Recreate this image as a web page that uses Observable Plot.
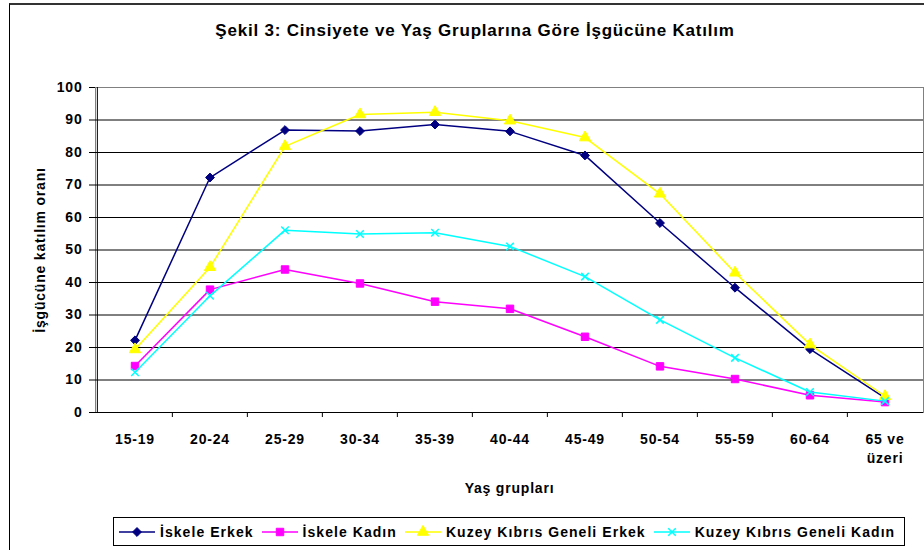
<!DOCTYPE html>
<html>
<head>
<meta charset="utf-8">
<script src="https://cdn.jsdelivr.net/npm/d3@7"></script>
<script src="https://cdn.jsdelivr.net/npm/@observablehq/plot@0.6"></script>
<style>
  html, body { margin: 0; padding: 0; background: #fff; }
  #wrap { position: relative; width: 924px; height: 550px; overflow: hidden; font-family: "Liberation Sans", Arial, sans-serif; }
  #border { position: absolute; left: 9px; top: 3px; width: 1000px; height: 600px; border-left: 1px solid #000; border-top: 2px solid #333; pointer-events: none; }
  #title { position: absolute; top: 22px; left: 0; width: 950px; text-align: center; font-weight: bold; font-size: 17px; line-height: 18px; letter-spacing: 0.8px; }
  #chart { position: absolute; top: 58px; left: 0; }
  #legend { position: absolute; left: 113px; top: 517px; width: 792px; height: 29px; border: 1px solid #000; display: flex; align-items: center; padding-left: 4px; box-sizing: border-box; font-weight: bold; font-size: 14px; letter-spacing: 1.05px; background: #fff; }
  .item { display: flex; align-items: center; margin-right: 7px; white-space: nowrap; }
  .item svg { margin-right: 4px; }
</style>
</head>
<body>
<div id="wrap">
  <div id="border"></div>
  <div id="title"></div>
  <div id="chart"></div>
  <div id="legend"></div>
</div>
<script>
const titleText = "Şekil 3: Cinsiyete ve Yaş Gruplarına Göre İşgücüne Katılım";
const yTitle = "İşgücüne katılım oranı";
const xTitle = "Yaş grupları";

const categories = ["15-19","20-24","25-29","30-34","35-39","40-44","45-49","50-54","55-59","60-64","65 ve üzeri"];
const tickLabels = ["15-19","20-24","25-29","30-34","35-39","40-44","45-49","50-54","55-59","60-64","65 ve\nüzeri"];
const yTicks = [0,10,20,30,40,50,60,70,80,90,100];

const seriesNames = ["İskele Erkek", "İskele Kadın", "Kuzey Kıbrıs Geneli Erkek", "Kuzey Kıbrıs Geneli Kadın"];
const iskeleErkek = [22.2, 72.3, 86.9, 86.6, 88.6, 86.5, 79.1, 58.3, 38.4, 19.5, 4.5];
const iskeleKadin = [14.3, 37.8, 44.0, 39.7, 34.1, 31.9, 23.3, 14.2, 10.3, 5.3, 3.2];
const kkErkek     = [19.4, 44.7, 81.9, 91.7, 92.4, 89.8, 84.6, 67.3, 43.0, 20.9, 5.0];
const kkKadin     = [12.4, 35.9, 56.1, 54.9, 55.3, 51.1, 41.8, 28.5, 16.8, 6.3, 3.5];

const colors  = ["#000080", "#FF00FF", "#FFFF00", "#00FFFF"];
const symbols = ["diamond2", "square", "triangle", "times"];
const radii   = [4, 4.2, 4.2, 3.5];

const seriesValues = [iskeleErkek, iskeleKadin, kkErkek, kkKadin];
const series = seriesNames.map((name, k) => ({
  name, color: colors[k], symbol: symbols[k], r: radii[k],
  data: categories.map((c, i) => ({cat: c, value: seriesValues[k][i]}))
}));

document.getElementById("title").textContent = titleText;

const W = 924, H = 452, mL = 95, mR = 1, mT = 29, mB = 98;
const step = (W - mL - mR) / categories.length;

const marks = [
  Plot.frame({stroke: "#808080"}),
  Plot.ruleY(yTicks.filter(v => v > 0 && v < 100), {stroke: "#000"}),
  Plot.ruleY([0], {stroke: "#000"}),
  Plot.ruleX([categories[0]], {dx: -step / 2, stroke: "#000"}),
  Plot.ruleX(categories.slice(1), {y1: 0, y2: 0, dx: -step / 2, insetBottom: -5, stroke: "#000"}),
  Plot.axisY({ticks: yTicks, tickSize: 6, tickPadding: 7, fontSize: 14, label: null, stroke: "#000"}),
  Plot.axisX({tickSize: 0, tickPadding: 18, fontSize: 14, label: null, lineHeight: 1.35,
              tickFormat: d => tickLabels[categories.indexOf(d)]}),
  Plot.text([yTitle], {frameAnchor: "left", textAnchor: "middle", dx: -55, rotate: -90, fontSize: 14, text: d => d}),
  Plot.text([xTitle], {frameAnchor: "bottom", textAnchor: "middle", dy: 80, fontSize: 14, text: d => d})
];
for (const s of series) {
  marks.push(Plot.line(s.data, {x: "cat", y: "value", stroke: s.color, strokeWidth: 1.5}));
  marks.push(Plot.dot(s.data, {x: "cat", y: "value", symbol: s.symbol, r: s.r,
    fill: s.symbol === "times" ? "none" : s.color, stroke: s.color, strokeWidth: s.symbol === "times" ? 1.5 : 1}));
}

const chart = Plot.plot({
  width: W, height: H, marginLeft: mL, marginRight: mR, marginTop: mT, marginBottom: mB,
  x: {type: "band", domain: categories, padding: 0},
  y: {domain: [0, 100]},
  style: {fontFamily: "'Liberation Sans', Arial, sans-serif", fontWeight: "bold", letterSpacing: "0.8px", color: "#000", background: "transparent"},
  marks
});
document.getElementById("chart").appendChild(chart);

// legend
const legend = d3.select("#legend");
const symMap = {diamond2: d3.symbolDiamond2, square: d3.symbolSquare, triangle: d3.symbolTriangle, times: d3.symbolTimes};
for (const s of series) {
  const item = legend.append("div").attr("class", "item");
  const svg = item.append("svg").attr("width", 38).attr("height", 14);
  svg.append("line").attr("x1", 1).attr("x2", 37).attr("y1", 7).attr("y2", 7).attr("stroke", s.color).attr("stroke-width", 1.5);
  svg.append("path").attr("transform", "translate(19,7)")
    .attr("d", d3.symbol(symMap[s.symbol], Math.PI * s.r * s.r)())
    .attr("fill", s.symbol === "times" ? "none" : s.color).attr("stroke", s.color).attr("stroke-width", s.symbol === "times" ? 1.5 : 1);
  item.append("span").text(s.name);
}
</script>
</body>
</html>
